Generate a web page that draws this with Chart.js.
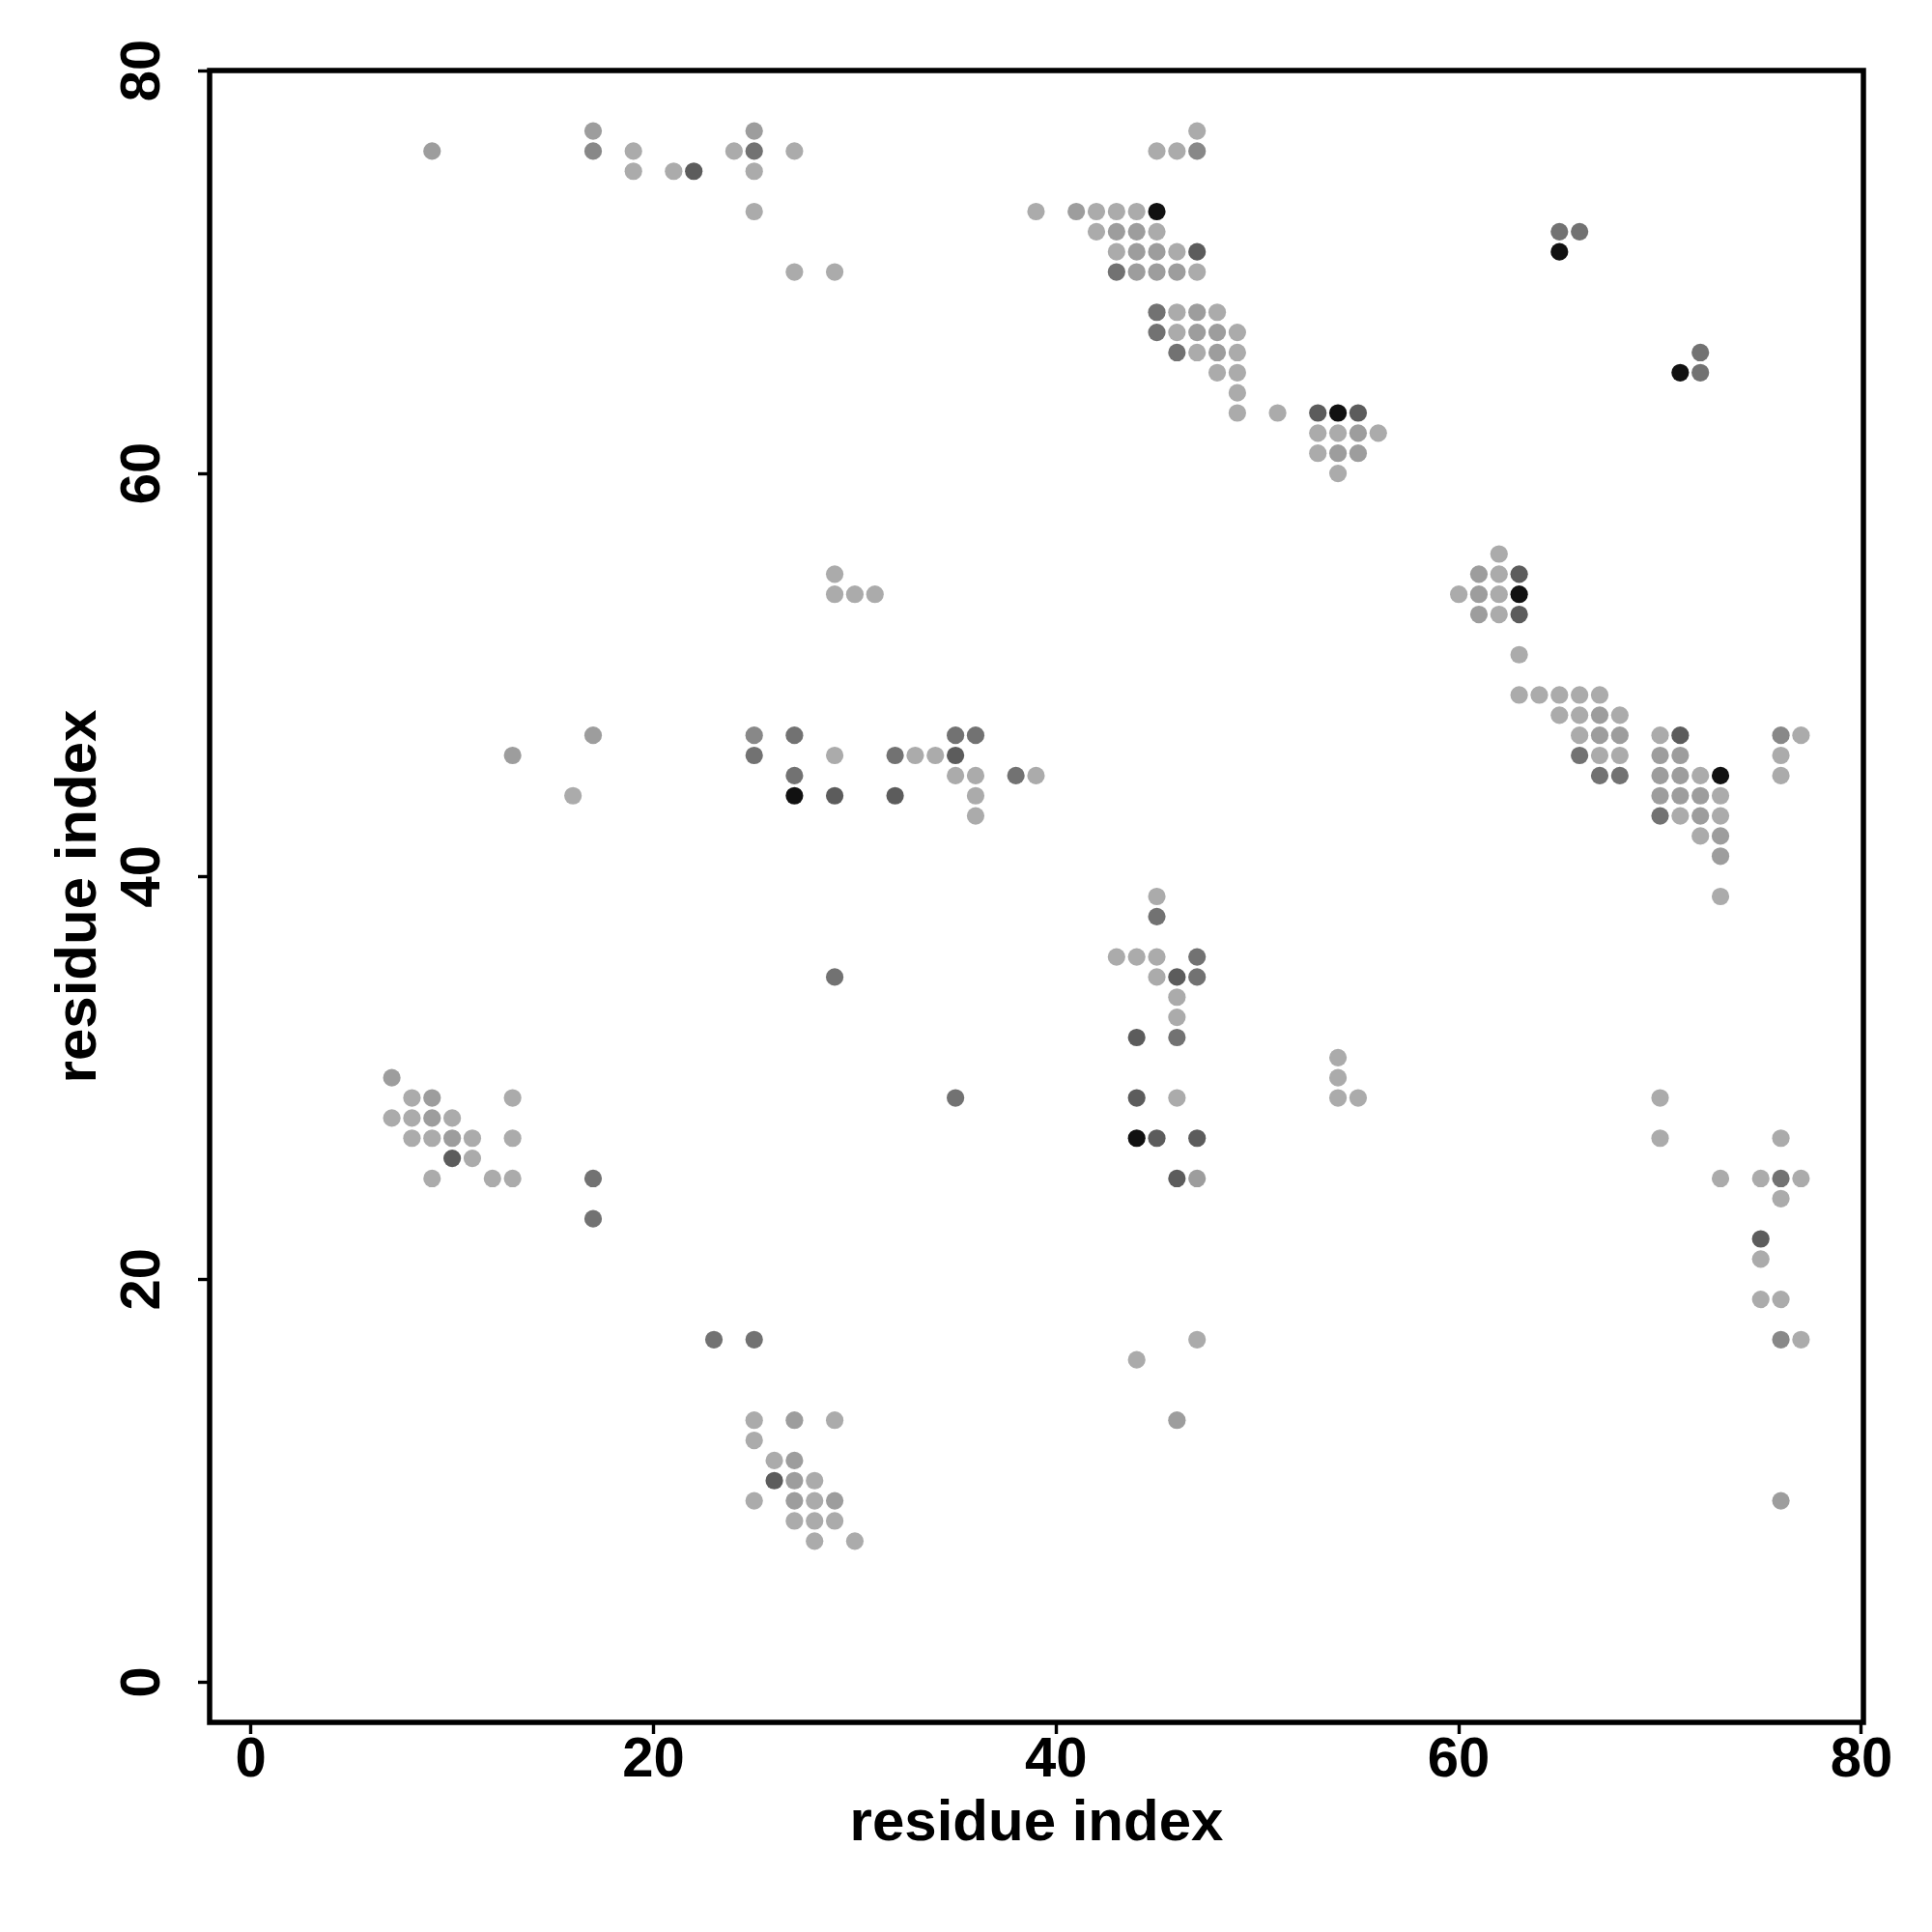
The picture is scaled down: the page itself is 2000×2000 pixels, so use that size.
<!DOCTYPE html>
<html>
<head>
<meta charset="utf-8">
<script src="https://cdn.jsdelivr.net/npm/chart.js@4"></script>
<style>
  body { margin: 0; background: #fff; }
  canvas { display: block; }
</style>
</head>
<body>
<canvas id="c" width="2000" height="2000" style="width:2000px;height:2000px"></canvas>
<script>
// contact points [x, y] grouped by shade, lightest to darkest
const shade1 = [
    [19,76],[19,75],[21,75],[24,76],[25,75],[25,73],[27,76],[27,70],[29,70],
    [45,76],[46,76],[47,77],[39,73],[42,73],[43,73],[44,73],[42,72],[45,72],
    [43,71],[46,71],[47,70],[46,68],[48,68],[46,67],[49,67],[47,66],[49,66],
    [48,65],[49,65],[49,64],[49,63],[51,63],
    [53,62],[54,62],[56,62],[53,61],[54,60],
    [62,56],[62,55],[60,54],[62,54],[62,53],[63,51],
    [63,49],[64,49],[65,49],[66,49],[67,49],[65,48],[66,48],[68,48],
    [66,47],[67,46],[68,46],[70,47],[72,45],[73,44],[71,43],[73,43],[72,42],[73,39],
    [77,47],[76,46],[76,45],
    [29,55],[29,54],[30,54],[31,54],
    [16,44],[29,46],[33,46],[34,46],[35,45],[36,45],[36,44],[36,43],[39,45],
    [45,39],[43,36],[44,36],[45,36],[45,35],[46,34],[46,33],[46,29],
    [54,31],[54,30],[54,29],[55,29],[70,29],[70,27],[76,27],
    [73,25],[75,25],[77,25],[76,24],[75,21],[75,19],[76,19],[77,17],
    [8,29],[13,29],[7,28],[8,28],[10,28],[8,27],[9,27],[11,27],[13,27],[11,26],
    [9,25],[12,25],[13,25],
    [44,16],[47,17],
    [25,13],[29,13],[25,12],[26,11],[28,10],[25,9],[28,9],[27,8],[28,8],[29,8],[28,7],[30,7]
];
const shade2 = [
    [9,76],[17,77],[25,77],[41,73],[43,72],[44,72],[44,71],[45,71],[44,70],[45,70],[46,70],
    [47,68],[47,67],[48,67],[48,66],[55,62],[54,61],[55,61],[61,55],[61,54],[61,53],
    [67,48],[67,47],[68,47],[70,46],[71,46],[70,45],[71,45],[70,44],[71,44],[72,44],
    [72,43],[73,42],[73,41],[13,46],[17,47],[47,25],[76,9],
    [7,30],[9,29],[9,28],[10,27],[46,13],[27,13],[27,11],[27,10],[27,9],[29,9]
];
const shade3 = [[17,76],[47,76],[25,47],[76,47],[76,17]];
const shade4 = [
    [25,76],[43,70],[45,68],[45,67],[46,66],[65,72],[66,72],[72,66],[72,65],
    [66,46],[67,45],[68,45],[70,43],[25,46],[27,47],[27,45],[32,46],[35,47],[36,47],[38,45],
    [45,38],[47,36],[47,35],[46,32],[29,35],[35,29],[76,25],[17,25],[17,23],[23,17],[25,17]
];
const shade5 = [
    [22,75],[47,71],[53,63],[55,63],[63,55],[63,53],[71,47],[35,46],[29,44],[32,44],
    [46,35],[44,32],[44,29],[45,27],[47,27],[46,25],[75,22],[10,26],[26,10]
];
const shade6 = [[45,73],[65,71],[71,65],[54,63],[63,54],[73,45],[27,44],[44,27]];

const groups = [shade1, shade2, shade3, shade4, shade5, shade6];
const colors = ['#ababab', '#9d9d9d', '#888888', '#727272', '#5c5c5c', '#111111'];
const tickVals = [0, 20, 40, 60, 80];
const axisLabel = 'residue index';

const fam = "'Liberation Sans', Arial, Helvetica, sans-serif";

const boxLine = {
    id: 'boxLine',
    afterDraw(chart) {
        const a = chart.chartArea;
        const c = chart.ctx;
        c.save();
        c.strokeStyle = '#000';
        c.lineWidth = 5.5;
        c.strokeRect(a.left, a.top, a.right - a.left, a.bottom - a.top);
        c.restore();
    }
};

const ctx = document.getElementById('c').getContext('2d');
new Chart(ctx, {
    type: 'scatter',
    data: {
        datasets: groups.map((g, i) => ({
            data: g.map(p => ({ x: p[0], y: p[1] })),
            backgroundColor: colors[i],
            borderWidth: 0,
            pointRadius: 9.1,
            pointHoverRadius: 9.1
        }))
    },
    options: {
        responsive: false,
        animation: false,
        layout: { padding: { left: 0, top: 73, right: 71, bottom: 76 } },
        plugins: {
            legend: { display: false },
            tooltip: { enabled: false }
        },
        scales: {
            x: {
                type: 'linear',
                min: -2.05,
                max: 80.1,
                afterBuildTicks: s => { s.ticks = tickVals.map(v => ({ value: v })); },
                afterFit: s => { s.height = 141; },
                border: { display: false },
                grid: {
                    drawOnChartArea: false,
                    drawTicks: true,
                    tickLength: 12,
                    tickWidth: 3.4,
                    tickColor: '#000'
                },
                ticks: {
                    color: '#000',
                    padding: -7,
                    maxRotation: 0,
                    font: { family: fam, size: 58, weight: 'bold' }
                },
                title: {
                    display: true,
                    text: axisLabel,
                    color: '#000',
                    padding: { top: 0, bottom: 0 },
                    font: { family: fam, size: 60, weight: 'bold' }
                }
            },
            y: {
                type: 'linear',
                min: -2,
                max: 80,
                afterBuildTicks: s => { s.ticks = tickVals.map(v => ({ value: v })); },
                afterFit: s => { s.width = 217; },
                border: { display: false },
                grid: {
                    drawOnChartArea: false,
                    drawTicks: true,
                    tickLength: 12,
                    tickWidth: 3.4,
                    tickColor: '#000'
                },
                ticks: {
                    color: '#000',
                    padding: 24,
                    minRotation: 90,
                    maxRotation: 90,
                    crossAlign: 'center',
                    font: { family: fam, size: 58, weight: 'bold' }
                },
                title: {
                    display: true,
                    text: axisLabel,
                    color: '#000',
                    padding: { top: 46, bottom: 0 },
                    font: { family: fam, size: 60, weight: 'bold' }
                }
            }
        }
    },
    plugins: [boxLine]
});
</script>
</body>
</html>
